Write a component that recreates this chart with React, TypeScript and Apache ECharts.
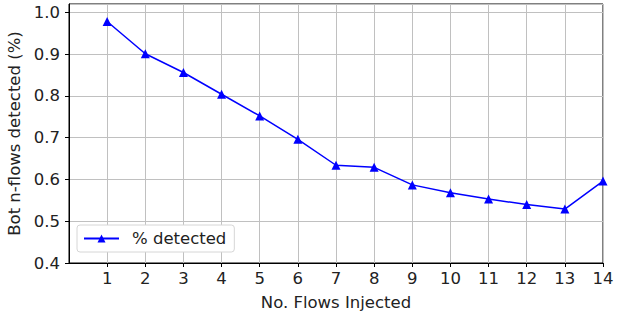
import React, { useEffect, useRef } from "react";
import * as echarts from "echarts";

const flowsInjected = [1, 2, 3, 4, 5, 6, 7, 8, 9, 10, 11, 12, 13, 14];
const detected = [0.978, 0.901, 0.856, 0.804, 0.752, 0.696, 0.634, 0.629, 0.587, 0.568, 0.553, 0.54, 0.529, 0.596];
const seriesName = "% detected";
const xAxisTitle = "No. Flows Injected";
const yAxisTitle = "Bot n-flows detected (%)";

export default function App() {
  const ref = useRef<HTMLDivElement>(null);
  useEffect(() => {
    if (!ref.current) return;
    const chart = echarts.init(ref.current, null, { renderer: "svg" });
    const font = "DejaVu Sans";
    const fs = 16.5;
    chart.setOption({
      animation: false,
      textStyle: { fontFamily: font },
      grid: {
        left: 69,
        right: 24,
        top: 4,
        bottom: 48,
        show: true,
        borderColor: "#000",
        borderWidth: 1,
        containLabel: false,
        outerBoundsMode: "none",
      },
      legend: {
        left: 77,
        top: 225,
        data: [seriesName],
        backgroundColor: "#fff",
        borderColor: "#d6d6d6",
        borderWidth: 1,
        borderRadius: 3,
        padding: [5, 8, 5, 6],
        itemWidth: 35,
        itemHeight: 10,
        itemGap: 10,
        textStyle: { fontFamily: font, fontSize: fs, color: "#222", padding: [0, 0, 0, 8] },
      },
      xAxis: {
        type: "value",
        min: 0,
        max: 14,
        interval: 1,
        name: xAxisTitle,
        nameLocation: "middle",
        nameGap: 31,
        nameTextStyle: { fontFamily: font, fontSize: fs, color: "#222" },
        axisLine: { show: true, lineStyle: { color: "#000", width: 1 } },
        axisTick: { show: true, length: 4, lineStyle: { color: "#000" } },
        axisLabel: {
          fontFamily: font,
          fontSize: fs,
          color: "#222",
          margin: 7,
          showMinLabel: false,
        },
        splitLine: { show: true, lineStyle: { color: "#c0c0c0", width: 1 } },
      },
      yAxis: {
        type: "value",
        min: 0.4,
        max: 1.02,
        interval: 0.1,
        name: yAxisTitle,
        nameLocation: "middle",
        nameGap: 37,
        nameTextStyle: { fontFamily: font, fontSize: fs, color: "#222" },
        axisLine: { show: true, lineStyle: { color: "#000", width: 1 } },
        axisTick: { show: true, length: 4, lineStyle: { color: "#000" } },
        axisLabel: {
          fontFamily: font,
          fontSize: fs,
          color: "#222",
          margin: 9,
          showMaxLabel: false,
          formatter: (v: number) => v.toFixed(1),
        },
        splitLine: { show: true, lineStyle: { color: "#c0c0c0", width: 1 } },
      },
      series: [
        {
          name: seriesName,
          type: "line",
          data: flowsInjected.map((x, i) => [x, detected[i]]),
          symbol: "triangle",
          symbolSize: 9,
          showAllSymbol: true,
          lineStyle: { color: "#0000ff", width: 1.5 },
          itemStyle: { color: "#0000ff" },
          clip: false,
        },
      ],
    });
    return () => chart.dispose();
  }, []);
  return (
    <div
      ref={ref}
      style={{ position: "fixed", left: 0, top: 0, width: 627, height: 311, background: "#fff" }}
    />
  );
}
